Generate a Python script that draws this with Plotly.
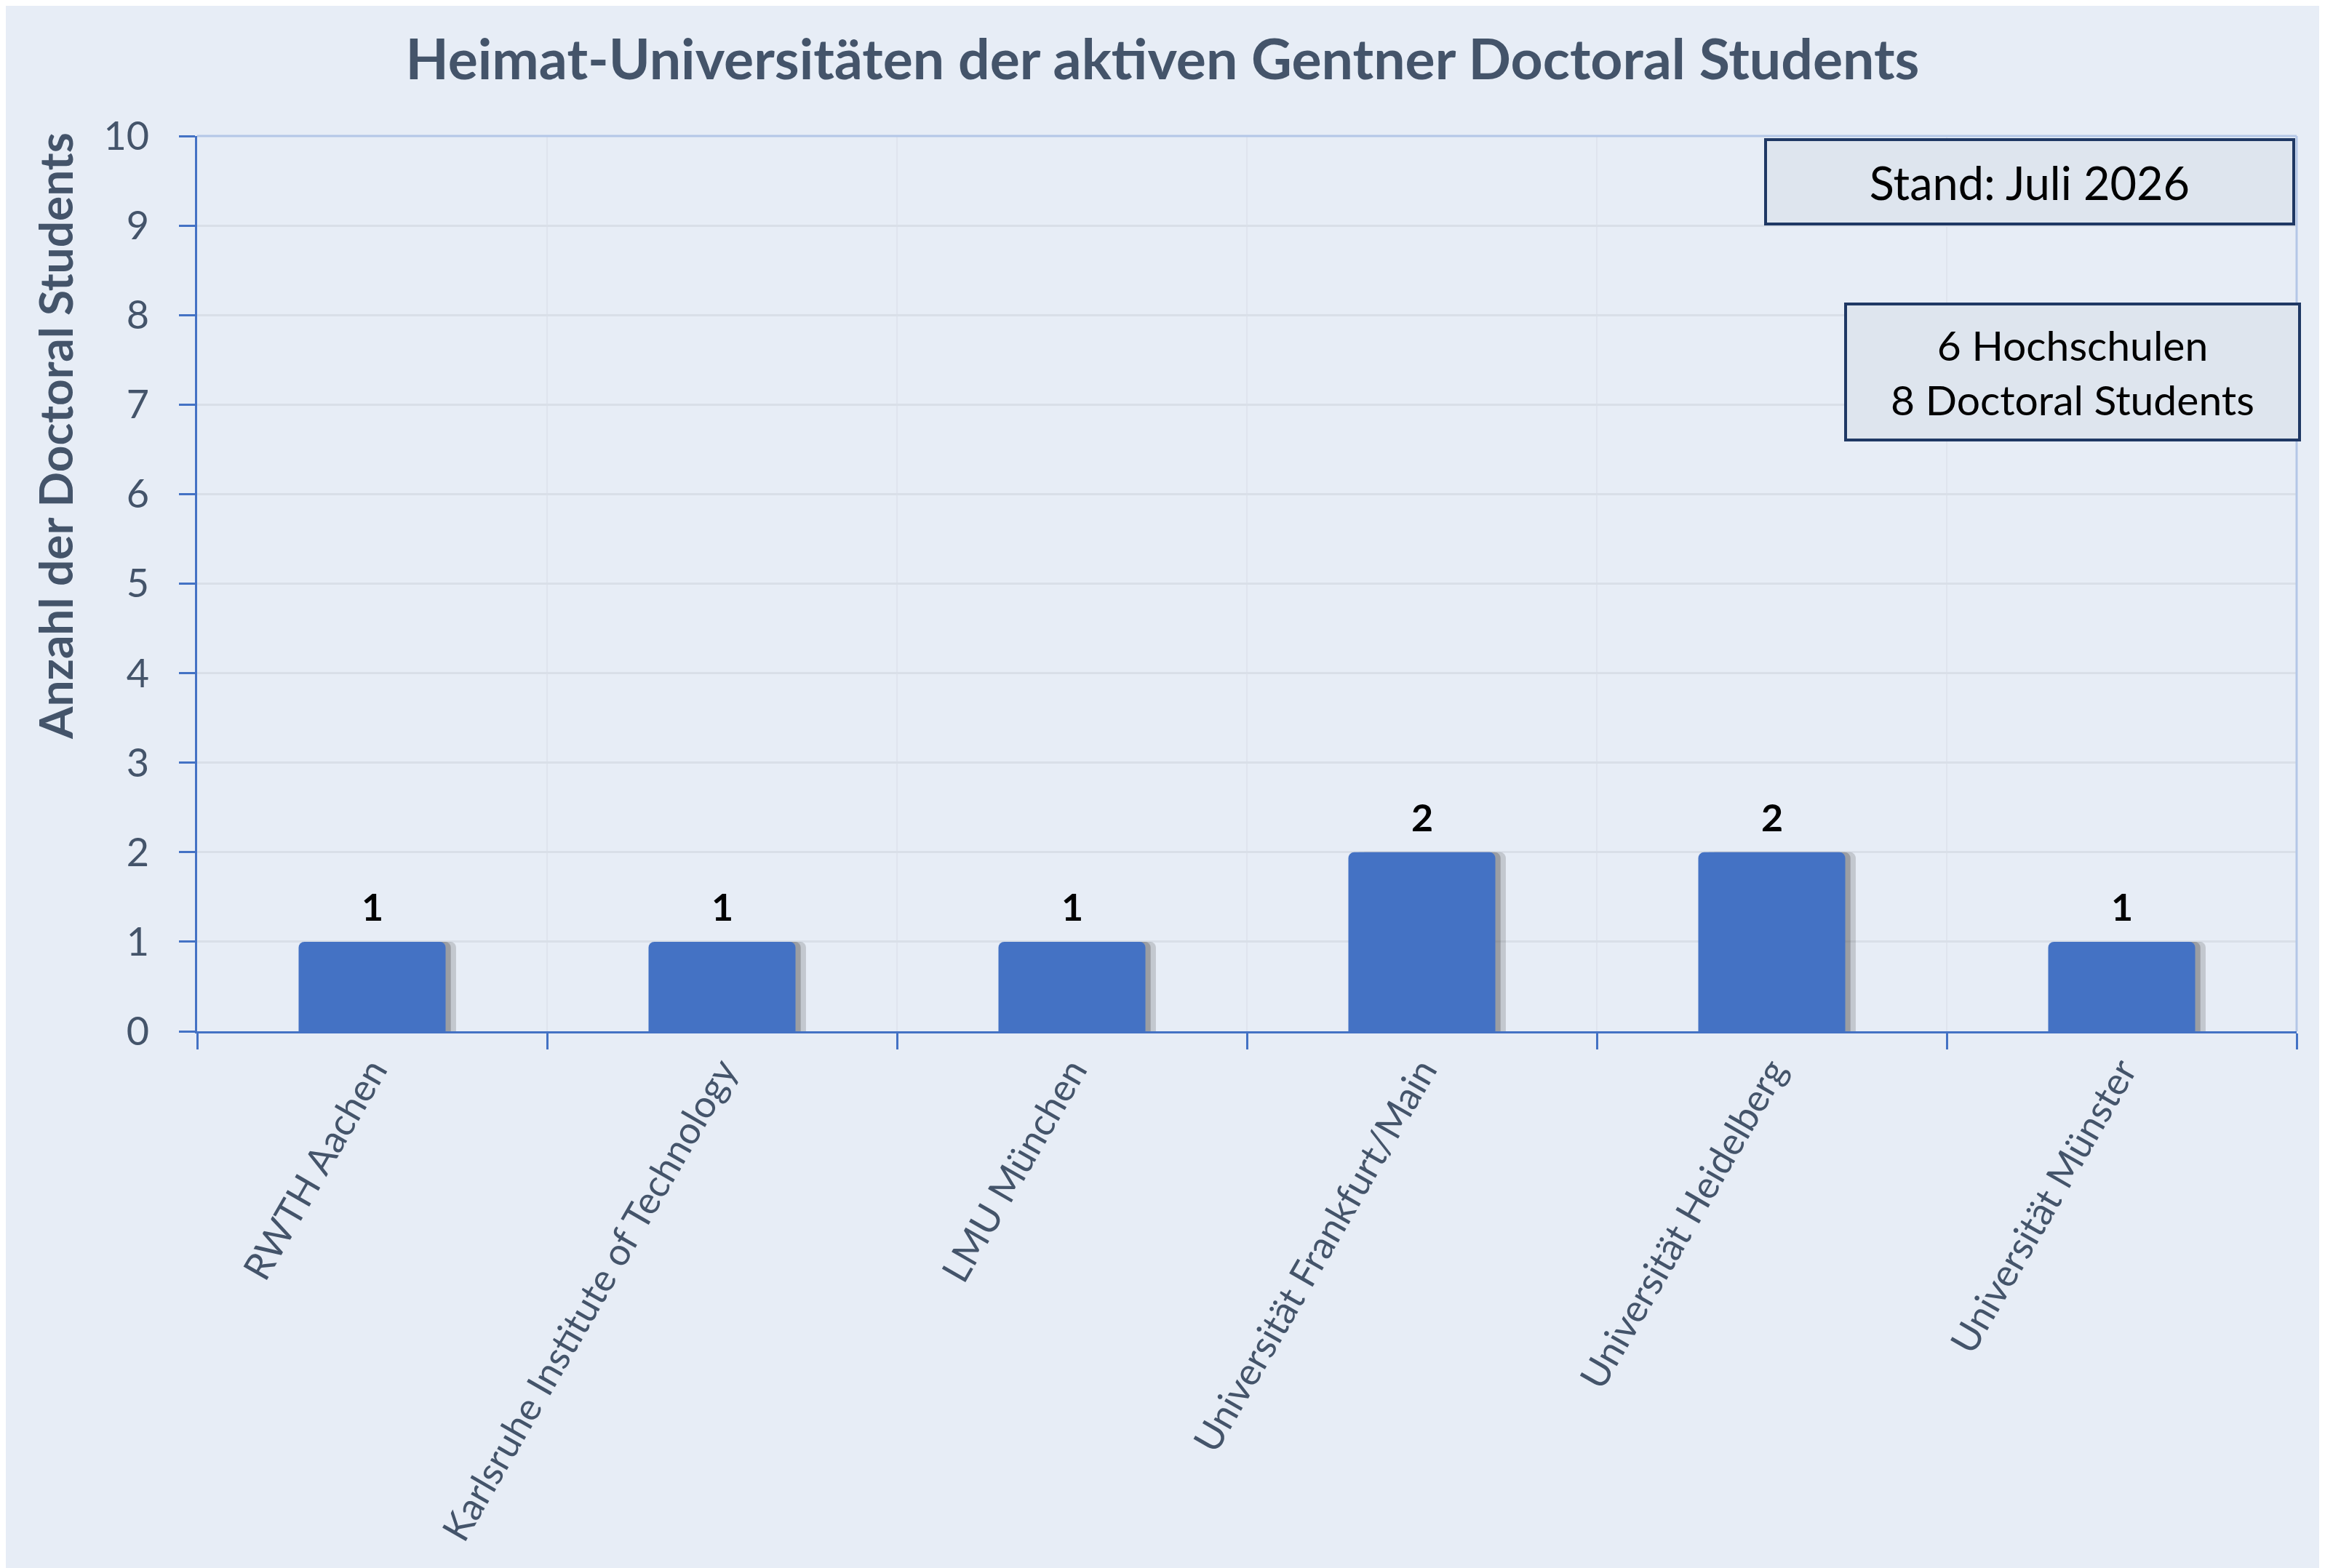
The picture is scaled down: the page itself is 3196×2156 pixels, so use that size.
import plotly.graph_objects as go

categories = ["RWTH Aachen", "Karlsruhe Institute of Technology", "LMU München",
              "Universität Frankfurt/Main", "Universität Heidelberg", "Universität Münster"]
values = [1, 1, 1, 2, 2, 1]
y_ticks = list(range(0, 11))

title_text = "Heimat-Universitäten der aktiven Gentner Doctoral Students"
y_title = "Anzahl der Doctoral Students"
box1_text = "Stand: Juli 2026"
box2_text = "6 Hochschulen<br>8 Doctoral Students"

W, H = 3196, 2156
OFF = 8  # page body margin offset
ML, MT = 271 - OFF, 187 - OFF
PW, PH = 2886, 1231
MR = W - ML - PW
MB = H - MT - PH

TXT = "#44546A"
BLUE = "#4472C4"
BG = "#E7EDF6"
GRID = "#D9DFE8"
FONT = "Lato"

def px_x(x):
    return (x - OFF - ML) / PW

def px_y(y):
    return (MT + PH - (y - OFF)) / PH

fig = go.Figure()

bar_w = 0.42
# soft shadow on the right
fig.add_trace(go.Bar(
    x=categories, y=values, width=bar_w, offset=-bar_w / 2 + 0.03,
    marker=dict(color="rgba(70,70,70,0.22)", line=dict(width=0)),
    hoverinfo="skip", showlegend=False,
))
fig.add_trace(go.Bar(
    x=categories, y=values, width=bar_w, offset=-bar_w / 2 + 0.015,
    marker=dict(color="rgba(70,70,70,0.32)", line=dict(width=0)),
    hoverinfo="skip", showlegend=False,
))
fig.add_trace(go.Bar(
    x=categories, y=values, width=bar_w, offset=-bar_w / 2,
    marker=dict(color=BLUE, line=dict(width=0)),
    showlegend=False,
))

annotations = []
for c, v in zip(categories, values):
    annotations.append(dict(
        x=c, y=v, xref="x", yref="y", text=f"<b>{v}</b>", showarrow=False,
        yanchor="bottom", yshift=16, font=dict(family=FONT, size=52, color="black"),
    ))

annotations.append(dict(
    x=px_x(75), y=px_y(600), xref="paper", yref="paper", text=f"<b>{y_title}</b>",
    textangle=-90, showarrow=False, xanchor="center", yanchor="middle",
    font=dict(family=FONT, size=64, color=TXT),
))

annotations.append(dict(
    x=px_x(2425), y=px_y(190), xref="paper", yref="paper", text=box1_text,
    showarrow=False, xanchor="left", yanchor="top", align="center",
    width=722, height=112, borderpad=0, borderwidth=4, bordercolor="#1F3864",
    bgcolor="#DEE5EE", font=dict(family=FONT, size=63, color="black"),
))
annotations.append(dict(
    x=px_x(2535), y=px_y(416), xref="paper", yref="paper", text=box2_text,
    showarrow=False, xanchor="left", yanchor="top", align="center",
    width=620, height=183, borderpad=0, borderwidth=4, bordercolor="#1F3864",
    bgcolor="#DEE5EE", font=dict(family=FONT, size=57, color="black"),
))

shapes = [
    dict(type="line", xref="paper", yref="paper", x0=0, x1=1, y0=1, y1=1,
         line=dict(color="#B4C7E7", width=3)),
    dict(type="line", xref="paper", yref="paper", x0=1, x1=1, y0=0, y1=1,
         line=dict(color="#B4C7E7", width=3)),
]

fig.update_layout(
    width=W, height=H,
    margin=dict(l=ML, r=MR, t=MT, b=MB, autoexpand=False),
    paper_bgcolor=BG, plot_bgcolor=BG,
    barmode="overlay",
    barcornerradius=8,
    title=dict(text=f"<b>{title_text}</b>", x=(1598 - OFF) / W, xref="container",
               xanchor="center", y=1 - (82 - OFF) / H, yanchor="middle",
               font=dict(family=FONT, size=77, color=TXT)),
    annotations=annotations,
    shapes=shapes,
    xaxis=dict(
        type="category", tickangle=-60, tickson="boundaries",
        ticks="outside", ticklen=22, tickwidth=3, tickcolor=BLUE,
        showline=True, linecolor=BLUE, linewidth=3,
        showgrid=True, gridcolor="#DFE4EE", gridwidth=2,
        tickfont=dict(family=FONT, size=52, color=TXT),
    ),
    yaxis=dict(
        range=[0, 10], tickvals=y_ticks, ticks="outside", ticklen=22, tickwidth=3,
        tickcolor=BLUE, showline=True, linecolor=BLUE, linewidth=3,
        showgrid=True, gridcolor=GRID, gridwidth=3, zeroline=False,
        tickfont=dict(family=FONT, size=54, color=TXT), ticklabelstandoff=30,
    ),
)

fig.write_html("out.html")
